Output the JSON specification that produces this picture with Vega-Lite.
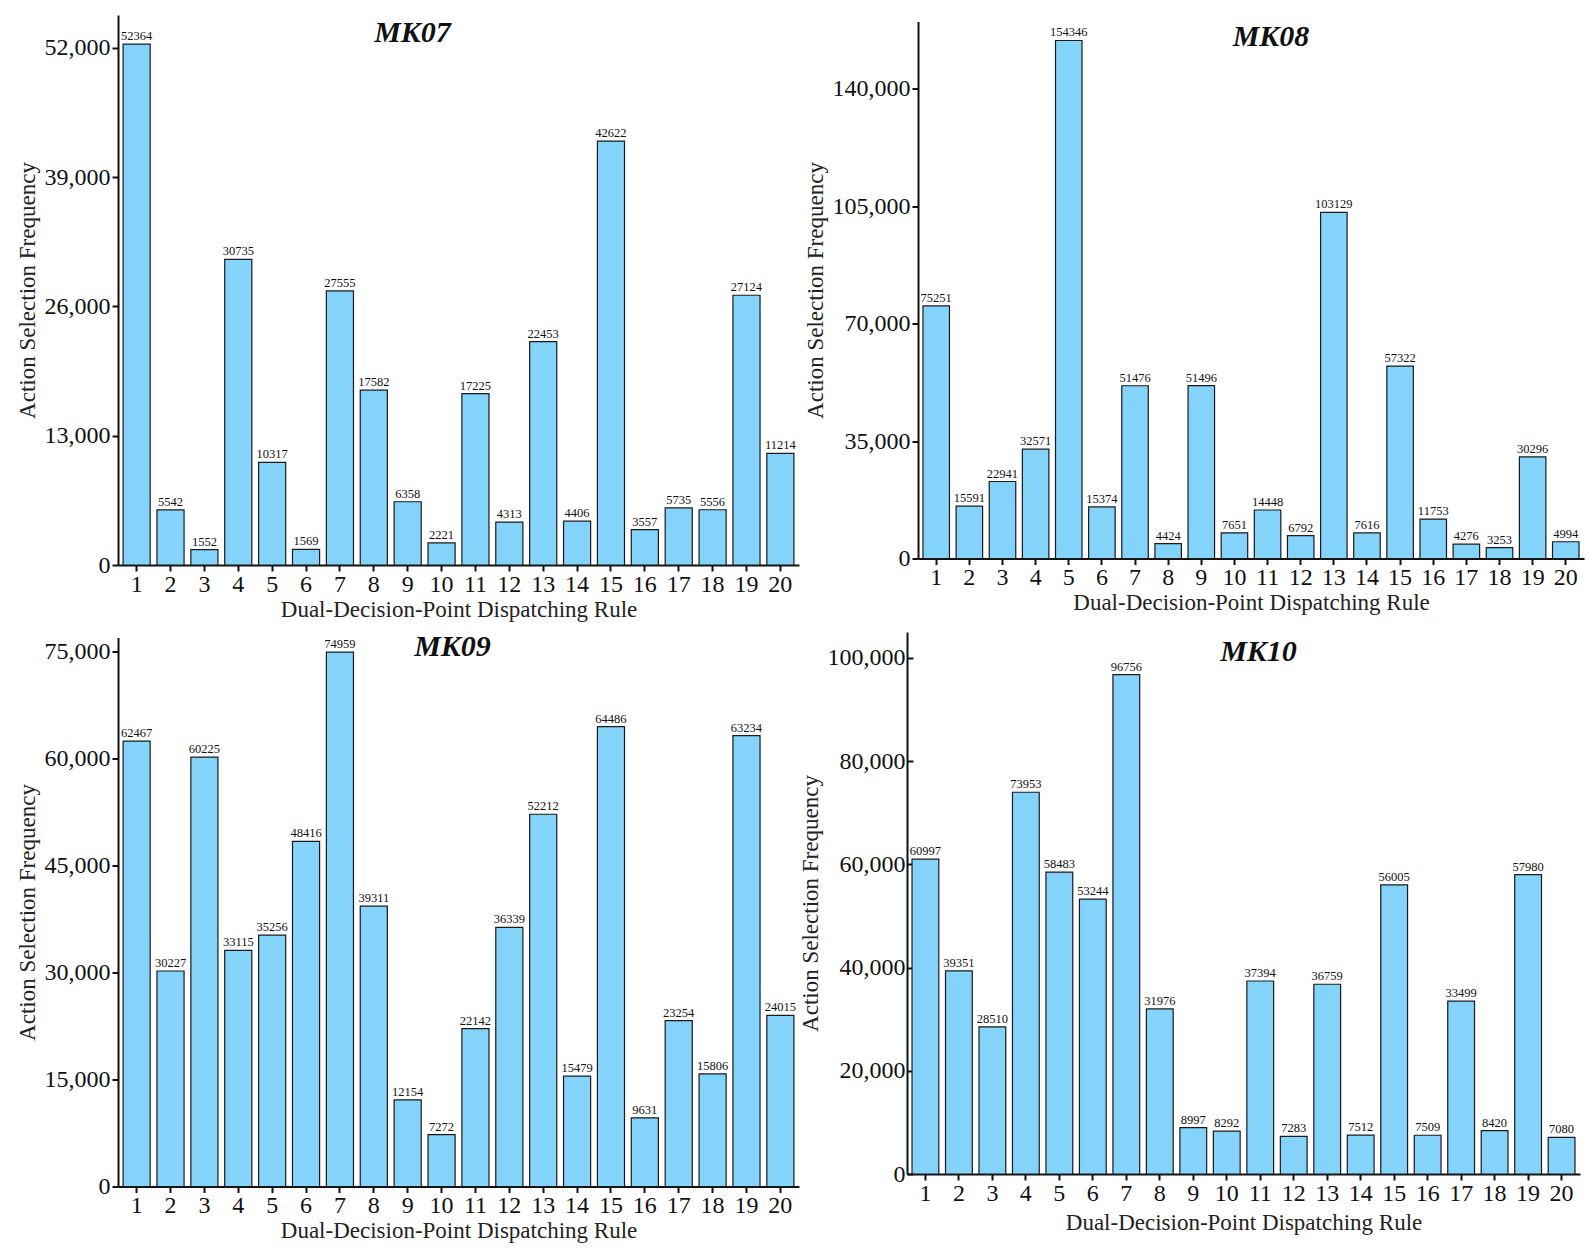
{
  "$schema": "https://vega.github.io/schema/vega-lite/v6.json",
  "background": "white",
  "padding": {"left": 16, "top": 15, "right": 5, "bottom": 5},
  "config": {
    "view": {"stroke": null},
    "font": "Liberation Serif",
    "axis": {
      "labelFont": "Liberation Serif",
      "titleFont": "Liberation Serif",
      "labelColor": "#111",
      "titleColor": "#222",
      "titleFontWeight": "normal",
      "domainColor": "#111",
      "domainWidth": 2,
      "tickColor": "#111",
      "tickWidth": 2,
      "tickSize": 6,
      "grid": false
    },
    "axisX": {"labelFontSize": 24, "labelAngle": 0, "labelPadding": 1, "titleFontSize": 23, "titlePadding": 2},
    "axisY": {"labelFontSize": 24, "titleFontSize": 23, "format": ",d", "labelPadding": 2, "titlePadding": 5},
    "title": {"font": "Liberation Serif", "fontSize": 30, "fontStyle": "italic", "fontWeight": "bold", "color": "#111", "anchor": "middle", "baseline": "alphabetic"},
    "bar": {"color": "#84D3FB", "stroke": "#1a1a1a", "strokeWidth": 1.2},
    "text": {"font": "Liberation Serif", "fontSize": 12.5, "color": "#111", "baseline": "bottom", "dy": -1}
  },
  "data": {
    "values": [
      {"panel": "MK07", "rule": 1, "count": 52364}, {"panel": "MK07", "rule": 2, "count": 5542},
      {"panel": "MK07", "rule": 3, "count": 1552}, {"panel": "MK07", "rule": 4, "count": 30735},
      {"panel": "MK07", "rule": 5, "count": 10317}, {"panel": "MK07", "rule": 6, "count": 1569},
      {"panel": "MK07", "rule": 7, "count": 27555}, {"panel": "MK07", "rule": 8, "count": 17582},
      {"panel": "MK07", "rule": 9, "count": 6358}, {"panel": "MK07", "rule": 10, "count": 2221},
      {"panel": "MK07", "rule": 11, "count": 17225}, {"panel": "MK07", "rule": 12, "count": 4313},
      {"panel": "MK07", "rule": 13, "count": 22453}, {"panel": "MK07", "rule": 14, "count": 4406},
      {"panel": "MK07", "rule": 15, "count": 42622}, {"panel": "MK07", "rule": 16, "count": 3557},
      {"panel": "MK07", "rule": 17, "count": 5735}, {"panel": "MK07", "rule": 18, "count": 5556},
      {"panel": "MK07", "rule": 19, "count": 27124}, {"panel": "MK07", "rule": 20, "count": 11214},

      {"panel": "MK08", "rule": 1, "count": 75251}, {"panel": "MK08", "rule": 2, "count": 15591},
      {"panel": "MK08", "rule": 3, "count": 22941}, {"panel": "MK08", "rule": 4, "count": 32571},
      {"panel": "MK08", "rule": 5, "count": 154346}, {"panel": "MK08", "rule": 6, "count": 15374},
      {"panel": "MK08", "rule": 7, "count": 51476}, {"panel": "MK08", "rule": 8, "count": 4424},
      {"panel": "MK08", "rule": 9, "count": 51496}, {"panel": "MK08", "rule": 10, "count": 7651},
      {"panel": "MK08", "rule": 11, "count": 14448}, {"panel": "MK08", "rule": 12, "count": 6792},
      {"panel": "MK08", "rule": 13, "count": 103129}, {"panel": "MK08", "rule": 14, "count": 7616},
      {"panel": "MK08", "rule": 15, "count": 57322}, {"panel": "MK08", "rule": 16, "count": 11753},
      {"panel": "MK08", "rule": 17, "count": 4276}, {"panel": "MK08", "rule": 18, "count": 3253},
      {"panel": "MK08", "rule": 19, "count": 30296}, {"panel": "MK08", "rule": 20, "count": 4994},

      {"panel": "MK09", "rule": 1, "count": 62467}, {"panel": "MK09", "rule": 2, "count": 30227},
      {"panel": "MK09", "rule": 3, "count": 60225}, {"panel": "MK09", "rule": 4, "count": 33115},
      {"panel": "MK09", "rule": 5, "count": 35256}, {"panel": "MK09", "rule": 6, "count": 48416},
      {"panel": "MK09", "rule": 7, "count": 74959}, {"panel": "MK09", "rule": 8, "count": 39311},
      {"panel": "MK09", "rule": 9, "count": 12154}, {"panel": "MK09", "rule": 10, "count": 7272},
      {"panel": "MK09", "rule": 11, "count": 22142}, {"panel": "MK09", "rule": 12, "count": 36339},
      {"panel": "MK09", "rule": 13, "count": 52212}, {"panel": "MK09", "rule": 14, "count": 15479},
      {"panel": "MK09", "rule": 15, "count": 64486}, {"panel": "MK09", "rule": 16, "count": 9631},
      {"panel": "MK09", "rule": 17, "count": 23254}, {"panel": "MK09", "rule": 18, "count": 15806},
      {"panel": "MK09", "rule": 19, "count": 63234}, {"panel": "MK09", "rule": 20, "count": 24015},

      {"panel": "MK10", "rule": 1, "count": 60997}, {"panel": "MK10", "rule": 2, "count": 39351},
      {"panel": "MK10", "rule": 3, "count": 28510}, {"panel": "MK10", "rule": 4, "count": 73953},
      {"panel": "MK10", "rule": 5, "count": 58483}, {"panel": "MK10", "rule": 6, "count": 53244},
      {"panel": "MK10", "rule": 7, "count": 96756}, {"panel": "MK10", "rule": 8, "count": 31976},
      {"panel": "MK10", "rule": 9, "count": 8997}, {"panel": "MK10", "rule": 10, "count": 8292},
      {"panel": "MK10", "rule": 11, "count": 37394}, {"panel": "MK10", "rule": 12, "count": 7283},
      {"panel": "MK10", "rule": 13, "count": 36759}, {"panel": "MK10", "rule": 14, "count": 7512},
      {"panel": "MK10", "rule": 15, "count": 56005}, {"panel": "MK10", "rule": 16, "count": 7509},
      {"panel": "MK10", "rule": 17, "count": 33499}, {"panel": "MK10", "rule": 18, "count": 8420},
      {"panel": "MK10", "rule": 19, "count": 57980}, {"panel": "MK10", "rule": 20, "count": 7080}
    ]
  },
  "vconcat": [
    {
      "center": true,
      "spacing": 5,
      "hconcat": [
        {
          "width": 681, "height": 550,
          "title": {"text": "MK07", "offset": -33, "dx": -46},
          "transform": [{"filter": "datum.panel == 'MK07'"}],
          "encoding": {
            "x": {"field": "rule", "type": "ordinal", "title": "Dual-Decision-Point Dispatching Rule",
                  "scale": {"paddingInner": 0.2, "paddingOuter": 0.15}},
            "y": {"field": "count", "type": "quantitative", "title": "Action Selection Frequency",
                  "scale": {"domain": [0, 55300], "nice": false},
                  "axis": {"values": [0, 13000, 26000, 39000, 52000]}}
          },
          "layer": [
            {"mark": {"type": "bar"}},
            {"mark": {"type": "text"}, "encoding": {"text": {"field": "count", "type": "quantitative", "format": "d"}}}
          ]
        },
        {
          "width": 666, "height": 537,
          "title": {"text": "MK08", "offset": -30, "dx": 20},
          "transform": [{"filter": "datum.panel == 'MK08'"}],
          "encoding": {
            "x": {"field": "rule", "type": "ordinal", "title": "Dual-Decision-Point Dispatching Rule",
                  "scale": {"paddingInner": 0.2, "paddingOuter": 0.15}},
            "y": {"field": "count", "type": "quantitative", "title": "Action Selection Frequency",
                  "scale": {"domain": [0, 160000], "nice": false},
                  "axis": {"values": [0, 35000, 70000, 105000, 140000]}}
          },
          "layer": [
            {"mark": {"type": "bar"}},
            {"mark": {"type": "text"}, "encoding": {"text": {"field": "count", "type": "quantitative", "format": "d"}}}
          ]
        }
      ]
    },
    {
      "center": true,
      "spacing": 0,
      "hconcat": [
        {
          "width": 681, "height": 549,
          "title": {"text": "MK09", "offset": -24, "dx": -6},
          "transform": [{"filter": "datum.panel == 'MK09'"}],
          "encoding": {
            "x": {"field": "rule", "type": "ordinal", "title": "Dual-Decision-Point Dispatching Rule",
                  "scale": {"paddingInner": 0.2, "paddingOuter": 0.15}},
            "y": {"field": "count", "type": "quantitative", "title": "Action Selection Frequency",
                  "scale": {"domain": [0, 77000], "nice": false},
                  "axis": {"values": [0, 15000, 30000, 45000, 60000, 75000]}}
          },
          "layer": [
            {"mark": {"type": "bar"}},
            {"mark": {"type": "text"}, "encoding": {"text": {"field": "count", "type": "quantitative", "format": "d"}}}
          ]
        },
        {
          "width": 673, "height": 542,
          "title": {"text": "MK10", "offset": -35, "dx": 15},
          "transform": [{"filter": "datum.panel == 'MK10'"}],
          "encoding": {
            "x": {"field": "rule", "type": "ordinal", "title": ["Dual-Decision-Point Dispatching Rule", " "],
                  "scale": {"paddingInner": 0.2, "paddingOuter": 0.15},
                  "axis": {"titlePadding": 6, "titleLineHeight": 14}},
            "y": {"field": "count", "type": "quantitative", "title": "Action Selection Frequency",
                  "scale": {"domain": [0, 105000], "nice": false},
                  "axis": {"values": [0, 20000, 40000, 60000, 80000, 100000], "tickSize": -6, "labelPadding": 8}}
          },
          "layer": [
            {"mark": {"type": "bar"}},
            {"mark": {"type": "text"}, "encoding": {"text": {"field": "count", "type": "quantitative", "format": "d"}}}
          ]
        }
      ]
    }
  ],
  "spacing": 10
}
